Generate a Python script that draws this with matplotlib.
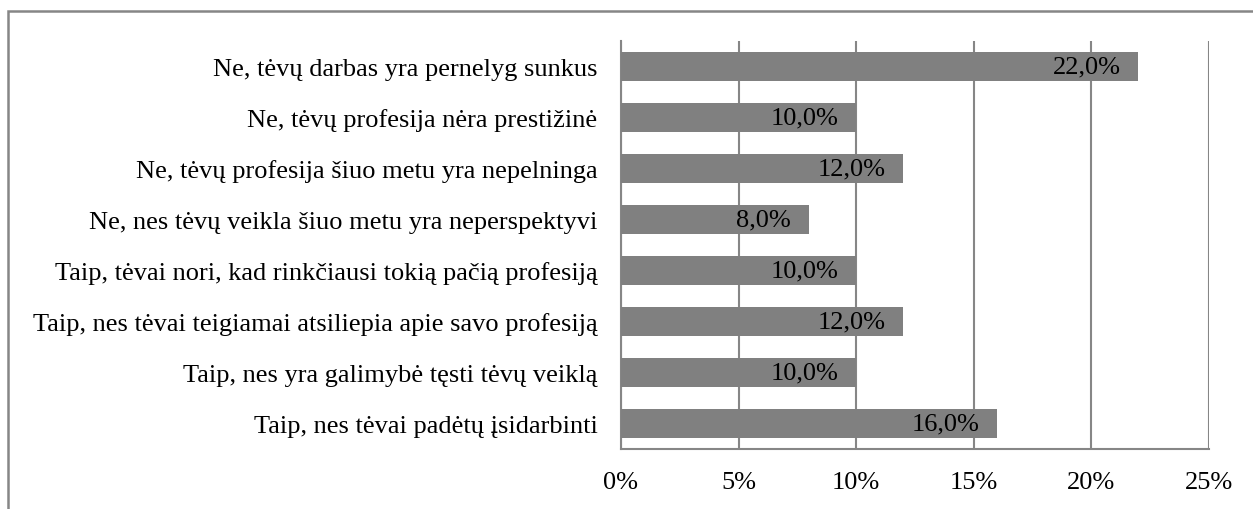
import matplotlib
matplotlib.use('Agg')
import matplotlib.pyplot as plt
from matplotlib.patches import Rectangle

# survey answers, top to bottom as in the chart
categories = [
    'Ne, tėvų darbas yra pernelyg sunkus',
    'Ne, tėvų profesija nėra prestižinė',
    'Ne, tėvų profesija šiuo metu yra nepelninga',
    'Ne, nes tėvų veikla šiuo metu yra neperspektyvi',
    'Taip, tėvai nori, kad rinkčiausi tokią pačią profesiją',
    'Taip, nes tėvai teigiamai atsiliepia apie savo profesiją',
    'Taip, nes yra galimybė tęsti tėvų veiklą',
    'Taip, nes tėvai padėtų įsidarbinti',
]
values = [22.0, 10.0, 12.0, 8.0, 10.0, 12.0, 10.0, 16.0]
xticks = [0, 5, 10, 15, 20, 25]

plt.rcParams['font.family'] = ['Liberation Serif', 'DejaVu Serif']
grey = '#868686'
fs = 19

fig = plt.figure(figsize=(12.53, 5.10), dpi=100)
ax = fig.add_axes([621 / 1253, 60 / 510, 588 / 1253, 408 / 510])

ypos = list(range(len(categories)))[::-1]
ax.barh(ypos, values, height=0.57, color='#808080', zorder=3)

for y, v in zip(ypos, values):
    ax.annotate(f'{v:.1f}%'.replace('.', ','), xy=(v, y), xytext=(-13, 0),
                textcoords='offset points', ha='right', va='center',
                fontsize=fs, color='black', zorder=4)

ax.set_xlim(0, 25)
ax.set_ylim(-0.5, len(categories) - 0.5)
ax.set_xticks(xticks)
ax.set_xticklabels([f'{t}%' for t in xticks], fontsize=fs)
ax.set_yticks(ypos)
ax.set_yticklabels(categories, fontsize=fs)
ax.tick_params(length=0)
ax.tick_params(axis='x', pad=16)
ax.tick_params(axis='y', pad=17)

ax.grid(axis='x', color=grey, linewidth=1.5, zorder=0)
for s in ['top', 'right']:
    ax.spines[s].set_visible(False)
for s in ['left', 'bottom']:
    ax.spines[s].set_color(grey)
    ax.spines[s].set_linewidth(1.5)

# outer frame of the chart (only top and left are visible in the crop)
fig.add_artist(Rectangle((8 / 1253, -0.1), 1.2, 1 - 12 / 510 + 0.1,
                         transform=fig.transFigure, fill=False,
                         edgecolor=grey, linewidth=1.8))

plt.savefig('out.png', dpi=100)
